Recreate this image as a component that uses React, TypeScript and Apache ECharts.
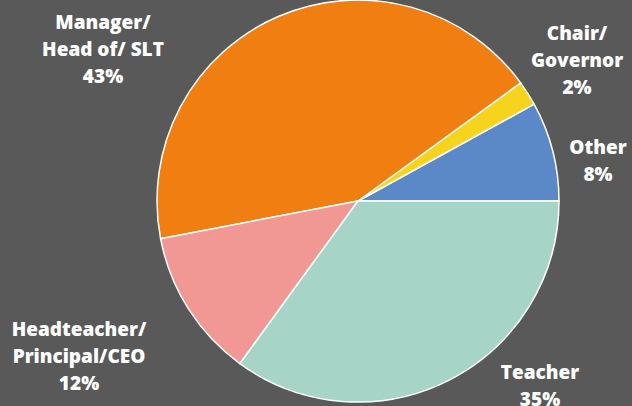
import React, { useEffect, useRef } from "react";
import * as echarts from "echarts";

const categories = ["Other", "Chair/\nGovernor", "Manager/\nHead of/ SLT", "Headteacher/\nPrincipal/CEO", "Teacher"];
const values = [8, 2, 43, 12, 35];
const colors = ["#5B89C7", "#F6D31C", "#F07E11", "#F19895", "#A6D5C8"];
const labelPos: [number, number][] = [
  [598, 160],
  [577, 60],
  [103, 49],
  [79, 356],
  [540, 385],
];

export default function App() {
  const ref = useRef<HTMLDivElement>(null);
  useEffect(() => {
    if (!ref.current) return;
    const chart = echarts.init(ref.current, undefined, { renderer: "svg" });
    chart.setOption({
      animation: false,
      backgroundColor: "#595959",
      series: [
        {
          type: "pie",
          center: [358, 201],
          radius: 201,
          startAngle: 0,
          clockwise: false,
          avoidLabelOverlap: false,
          data: categories.map((c, i) => ({
            name: c,
            value: values[i],
            itemStyle: { color: colors[i] },
          })),
          itemStyle: { borderColor: "#ffffff", borderWidth: 1.5 },
          label: {
            show: true,
            position: "outside",
            formatter: (p: any) => `${p.name}\n${p.value}%`,
            color: "#ffffff",
            fontFamily: "Open Sans",
            fontWeight: 800,
            fontSize: 19,
            lineHeight: 27,
            align: "center",
          },
          labelLine: { show: false },
          labelLayout: (params: any) => {
            const pos = labelPos[params.dataIndex];
            return { x: pos[0], y: pos[1], align: "center", verticalAlign: "middle" };
          },
        },
      ],
    });
    return () => chart.dispose();
  }, []);
  return (
    <div
      ref={ref}
      style={{ position: "fixed", left: 0, top: 0, width: 632, height: 406 }}
    />
  );
}
